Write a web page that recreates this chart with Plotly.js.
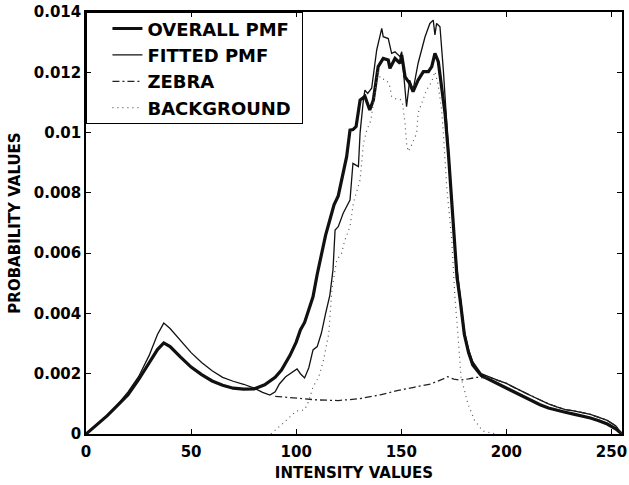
<!DOCTYPE html>
<html>
<head>
<meta charset="utf-8">
<script src="https://cdn.plot.ly/plotly-3.0.1.min.js"></script>
<style>
  html, body { margin: 0; padding: 0; background: #fff; }
  #chart { width: 629px; height: 485px; }
</style>
</head>
<body>
<div id="chart"></div>
<script>
// Overall PMF (thick)
const overallX = [0,5,10,15,20,25,30,34,37,40,45,50,55,60,65,70,75,80,85,90,93,97,100,102,104,106,108,110,112,114,116,118,120,122,124,125.6,127,128.5,130.4,132.7,135,136.7,139,141.4,143.8,144.6,147,149.4,150.2,151.8,154,155.6,158,160.5,162.9,164.5,166,167.6,169.2,170.8,172.4,174,175,176.5,178,180,182,184,188,192,196,200,204,208,212,216,220,224,228,232,236,240,244,248,252,255];
const overallY = [0,0.0003,0.0006,0.00095,0.0013,0.0018,0.00235,0.0028,0.00302,0.0029,0.00255,0.00222,0.00197,0.00176,0.00162,0.00152,0.00149,0.0015,0.00163,0.00188,0.00212,0.0026,0.00305,0.00345,0.0037,0.0041,0.00455,0.0053,0.006,0.0066,0.0071,0.0076,0.0079,0.0086,0.0092,0.01008,0.0101,0.0102,0.01108,0.0112,0.01075,0.01108,0.01219,0.01246,0.01241,0.01213,0.01246,0.0123,0.01257,0.01185,0.01163,0.01136,0.01174,0.01202,0.01202,0.01219,0.01263,0.01235,0.01152,0.01064,0.00931,0.00776,0.0065,0.0052,0.00445,0.0033,0.0027,0.00229,0.00194,0.0018,0.00166,0.00152,0.00139,0.00125,0.0011,0.00097,0.00086,0.00078,0.00072,0.00066,0.0006,0.00053,0.00044,0.00033,0.00017,0];

// Fitted PMF (thin)
const fittedX = [0,5,10,15,20,25,30,34,37,40,45,50,55,60,65,70,75,80,84,87.5,90,92,95,98,100.4,102,104,106,108,110,112,114,116,117.5,118.5,120,122.4,125.6,127,129.6,130.4,132,132.7,134,135.9,138.3,140.7,141.4,143.8,145.4,147,149.4,150.2,152.5,154,155.6,158,161.3,163.6,165.2,166,166.8,168.4,170,171.6,173.2,174.5,176,178,180,182,184,188,192,196,200,204,208,212,216,220,224,228,232,236,240,244,248,252,255];
const fittedY = [0,0.0003,0.0006,0.00097,0.0014,0.0019,0.0026,0.0033,0.00368,0.0035,0.0031,0.0027,0.00237,0.0021,0.00188,0.00175,0.00165,0.00152,0.00138,0.00129,0.0014,0.00166,0.0019,0.00205,0.00216,0.002,0.00186,0.0022,0.00279,0.0029,0.00335,0.004,0.0046,0.00544,0.00677,0.00688,0.00733,0.00776,0.00898,0.00887,0.01,0.0111,0.01141,0.0113,0.01147,0.01274,0.01346,0.01318,0.01312,0.01263,0.01268,0.01252,0.01268,0.01086,0.01174,0.01141,0.0123,0.01318,0.01362,0.01373,0.01324,0.01362,0.01351,0.01208,0.0102,0.00854,0.0072,0.0058,0.0045,0.0034,0.0028,0.0024,0.002,0.00188,0.00178,0.00168,0.00153,0.0014,0.00126,0.00112,0.001,0.0009,0.00081,0.00077,0.00072,0.00065,0.00055,0.00045,0.00027,0];

// Zebra component (dash-dot)
const zebraX = [90,95,100,110,120,130,140,148,156,164,170,172,175,178,182,186,190,192,196,200,204,208,212,216,220,224,228,232,236,240,244,248,252,255];
const zebraY = [0.00125,0.00122,0.00118,0.00113,0.00111,0.00117,0.0013,0.00144,0.00155,0.00166,0.00183,0.0019,0.00182,0.00179,0.00183,0.00188,0.00186,0.00188,0.00178,0.00168,0.00153,0.0014,0.00126,0.00112,0.001,0.0009,0.00081,0.00077,0.00072,0.00065,0.00055,0.00045,0.00027,0];

// Background component (dotted)
const backgroundX = [88,90,92,96,100,104,106,108,110.7,113,115.5,117,119.3,121.6,123,125.6,127.2,130.4,132,133.6,135.5,137.5,139,140,143,144.6,145.4,147.8,149.4,150.5,151.8,152.5,153.3,155,157.3,158,160,162,164.5,166,167.5,169.2,170,171.6,174,175.6,176.9,178.4,181.7,184.9,188.8,195];
const backgroundY = [0,0.00012,0.00027,0.0005,0.00076,0.0008,0.0011,0.00156,0.00189,0.00245,0.00333,0.0048,0.00577,0.006,0.0064,0.00688,0.00766,0.00843,0.00965,0.01008,0.0104,0.0113,0.01208,0.0118,0.01174,0.01152,0.0112,0.0111,0.0111,0.011,0.0103,0.00965,0.00937,0.0096,0.00998,0.01065,0.011,0.01141,0.01169,0.01202,0.0116,0.01075,0.00998,0.0082,0.00644,0.00445,0.00333,0.00189,0.001,0.00044,0.0001,0];

const seriesNames = ['OVERALL PMF', 'FITTED PMF', 'ZEBRA', 'BACKGROUND'];
const xTicks = [0, 50, 100, 150, 200, 250];
const yTicks = [0, 0.002, 0.004, 0.006, 0.008, 0.01, 0.012, 0.014];
const yTickText = ['0', '0.002', '0.004', '0.006', '0.008', '0.01', '0.012', '0.014'];

const FONT = 'DejaVu Sans, Arial, sans-serif';

const traces = [
  {x: overallX, y: overallY, name: seriesNames[0], mode: 'lines',
   line: {color: '#111', width: 3.2}},
  {x: fittedX, y: fittedY, name: seriesNames[1], mode: 'lines',
   line: {color: '#111', width: 1.3}},
  {x: zebraX, y: zebraY, name: seriesNames[2], mode: 'lines',
   line: {color: '#222', width: 1.3, dash: '7px,3px,2px,3px'}},
  {x: backgroundX, y: backgroundY, name: seriesNames[3], mode: 'lines',
   line: {color: '#555', width: 1.2, dash: '1px,4px'}}
];

const layout = {
  width: 629, height: 485,
  margin: {l: 86, r: 7, t: 12, b: 51},
  paper_bgcolor: '#fff', plot_bgcolor: '#fff',
  font: {family: FONT, color: '#000', size: 15},
  showlegend: true,
  legend: {
    x: 0.04, y: 1.004, xanchor: 'left', yanchor: 'top',
    bgcolor: 'rgba(0,0,0,0)', borderwidth: 0,
    font: {family: FONT, size: 18, color: '#000', weight: 'bold'},
    tracegroupgap: 0
  },
  annotations: [{
    xref: 'paper', yref: 'paper', x: 0, y: 1, xanchor: 'left', yanchor: 'top',
    text: '&nbsp;', showarrow: false, width: 215, height: 110,
    borderpad: 0, borderwidth: 1, bordercolor: '#000', bgcolor: 'rgba(0,0,0,0)'
  }],
  xaxis: {
    range: [0, 255], tickvals: xTicks, ticktext: xTicks.map(String),
    ticks: 'inside', ticklen: 5, tickcolor: '#000', tickwidth: 1,
    showline: true, linecolor: '#000', linewidth: 1.5, mirror: 'ticks',
    showgrid: false, zeroline: false, ticklabelstandoff: 3,
    tickfont: {family: FONT, size: 15, weight: 'bold'},
    title: {text: 'INTENSITY VALUES', font: {family: FONT, size: 15, weight: 'bold'}, standoff: 8}
  },
  yaxis: {
    range: [0, 0.014], tickvals: yTicks, ticktext: yTickText,
    ticks: 'inside', ticklen: 5, tickcolor: '#000', tickwidth: 1,
    showline: true, linecolor: '#000', linewidth: 1.5, mirror: 'ticks',
    showgrid: false, zeroline: false,
    tickfont: {family: FONT, size: 15, weight: 'bold'},
    title: {text: 'PROBABILITY VALUES', font: {family: FONT, size: 15, weight: 'bold'}, standoff: 10}
  }
};

Plotly.newPlot('chart', traces, layout, {displayModeBar: false});
</script>
</body>
</html>
